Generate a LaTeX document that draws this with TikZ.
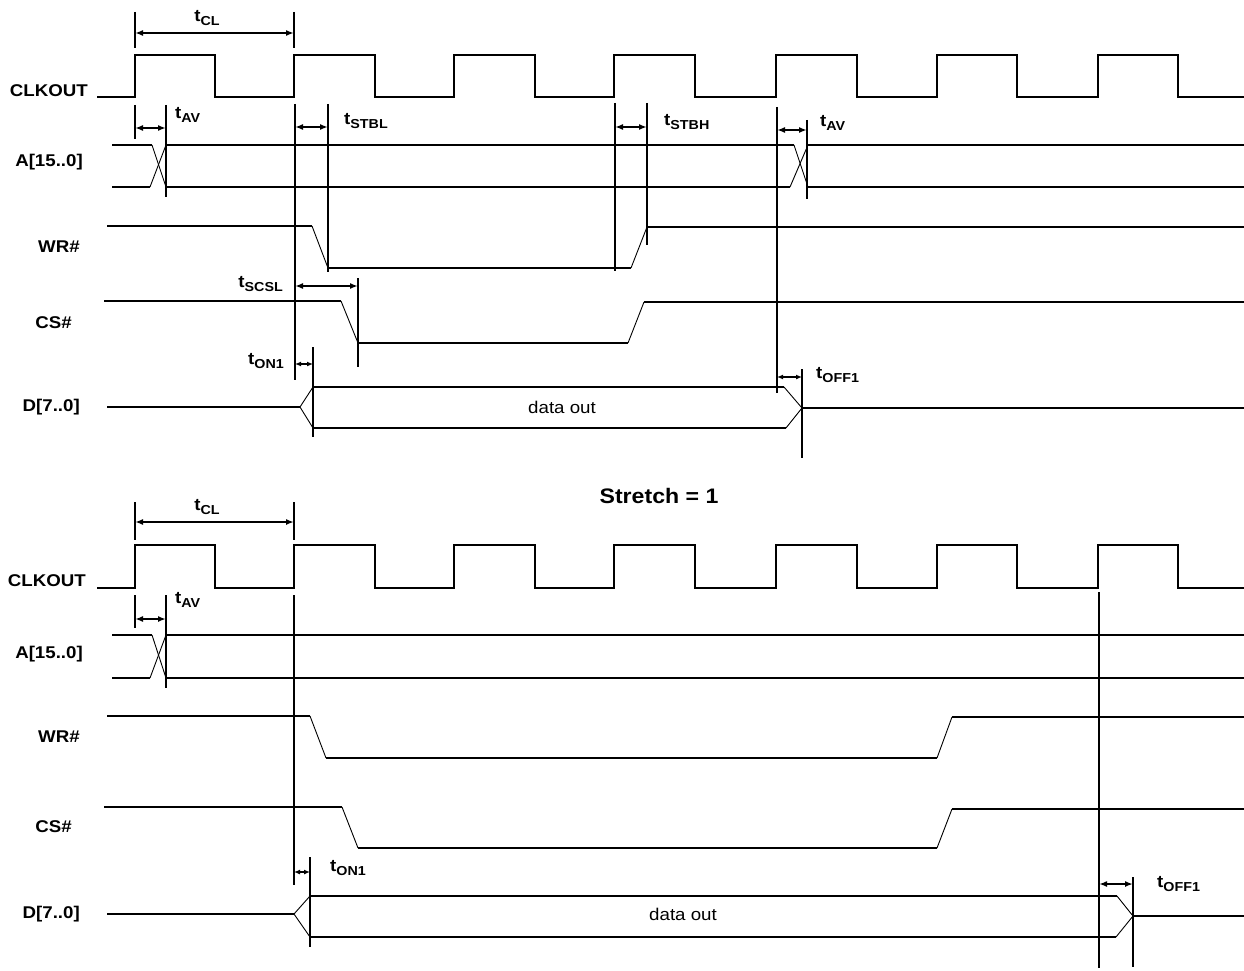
\documentclass[tikz,border=0pt]{standalone}
\usepackage{fontspec}
\setmainfont{Liberation Sans}[FakeStretch=1.1]
\usetikzlibrary{arrows.meta}
\newcommand{\tlab}[1]{t\raisebox{-3.5pt}{\fontsize{13}{13}\selectfont\bfseries #1}}
\begin{document}
\begin{tikzpicture}[x=1pt,y=-1pt,
  sig/.style={line width=2pt},
  thn/.style={line width=0.9pt},
  mk/.style={line width=2pt},
  dim/.style={line width=1.8pt,{Latex[length=8pt,width=6pt]}-{Latex[length=8pt,width=6pt]}},
  sdim/.style={line width=1.6pt,{Latex[length=6pt,width=5pt]}-{Latex[length=6pt,width=5pt]}},
  lbl/.style={font=\fontsize{17}{20}\selectfont\bfseries, inner sep=0pt},
  txt/.style={font=\fontsize{17}{20}\selectfont, inner sep=0pt}]
\useasboundingbox (0,0) rectangle (1244,971);
\fill[white] (0,0) rectangle (1244,971);

% ================= TOP DIAGRAM =================
\node[lbl,anchor=east] (clkA) at (88,91) {CLKOUT};
\node[lbl,anchor=east] (adrA) at (83,162) {A[15..0]};
\node[lbl,anchor=east] (wrA) at (80,247) {WR\#};
\node[lbl,anchor=east] (csA) at (72,323) {CS\#};
\node[lbl,anchor=east] (dA) at (80,407) {D[7..0]};

% clock
\draw[sig] (97,97) -- (135,97) -- (135,55) -- (215,55) -- (215,97) -- (294,97) -- (294,55) -- (375,55) -- (375,97)
  -- (454,97) -- (454,55) -- (535,55) -- (535,97) -- (614,97) -- (614,55) -- (695,55) -- (695,97)
  -- (776,97) -- (776,55) -- (857,55) -- (857,97) -- (937,97) -- (937,55) -- (1017,55) -- (1017,97)
  -- (1098,97) -- (1098,55) -- (1178,55) -- (1178,97) -- (1244,97);

% tCL
\draw[mk] (135,12) -- (135,48);
\draw[mk] (294,12) -- (294,48);
\draw[dim] (135,33) -- (294,33);
\node[lbl] (tclA) at (207,18) {\tlab{CL}};

% address bus
\draw[sig] (112,145) -- (152,145);
\draw[sig] (112,187) -- (150,187);
\draw[thn] (152,145) -- (166,187);
\draw[thn] (150,187) -- (166,145);
\draw[sig] (166,145) -- (794,145);
\draw[sig] (166,187) -- (790,187);
\draw[thn] (794,145) -- (808,187);
\draw[thn] (790,187) -- (808,145);
\draw[sig] (808,145) -- (1244,145);
\draw[sig] (808,187) -- (1244,187);

% tAV first
\draw[mk] (135,105) -- (135,139);
\draw[mk] (166,105) -- (166,197);
\draw[dim] (135,128) -- (166,128);
\node[lbl,anchor=west] (tavA) at (175,115) {\tlab{AV}};

% tSTBL
\draw[mk] (295,104) -- (295,380);
\draw[mk] (328,104) -- (328,272);
\draw[dim] (295,127) -- (328,127);
\node[lbl,anchor=west] (tstblA) at (344,121) {\tlab{STBL}};

% WR#
\draw[sig] (107,226) -- (312,226);
\draw[thn] (312,226) -- (328,268);
\draw[sig] (328,268) -- (631,268);
\draw[thn] (631,268) -- (647,227);
\draw[sig] (647,227) -- (1244,227);

% tSTBH
\draw[mk] (615,103) -- (615,271);
\draw[mk] (647,103) -- (647,245);
\draw[dim] (615,127) -- (647,127);
\node[lbl,anchor=west] (tstbhA) at (664,122) {\tlab{STBH}};

% CS#
\draw[sig] (104,301) -- (341,301);
\draw[thn] (341,301) -- (358,343);
\draw[sig] (358,343) -- (628,343);
\draw[thn] (628,343) -- (644,302);
\draw[sig] (644,302) -- (1244,302);

% tSCSL
\draw[mk] (358,278) -- (358,367);
\draw[dim] (295,286) -- (358,286);
\node[lbl,anchor=east] (tscslA) at (283,284) {\tlab{SCSL}};

% tON1
\draw[mk] (313,347) -- (313,437);
\draw[sdim] (295,364) -- (313,364);
\node[lbl,anchor=east] (ton1A) at (284,361) {\tlab{ON1}};

% D bus
\draw[sig] (107,407) -- (300,407);
\draw[thn] (300,407) -- (313,387);
\draw[thn] (300,407) -- (313,428);
\draw[sig] (313,387) -- (784,387);
\draw[sig] (313,428) -- (786,428);
\draw[thn] (784,387) -- (802,408);
\draw[thn] (786,428) -- (802,408);
\draw[sig] (802,408) -- (1244,408);
\node[txt] (doA) at (562,407) {data out};

% tAV second, tOFF1
\draw[mk] (777,107) -- (777,393);
\draw[mk] (807,120) -- (807,199);
\draw[dim] (777,130) -- (807,130);
\node[lbl,anchor=west] (tavB) at (820,123) {\tlab{AV}};
\draw[mk] (802,369) -- (802,458);
\draw[sdim] (777,377) -- (802,377);
\node[lbl,anchor=west] (toff1A) at (816,375) {\tlab{OFF1}};

% ================= TITLE =================
\node[font=\fontsize{21}{24}\selectfont\bfseries, inner sep=0pt] (title) at (659,496) {Stretch = 1};

% ================= BOTTOM DIAGRAM =================
\node[lbl,anchor=east] (clkB) at (86,581) {CLKOUT};
\node[lbl,anchor=east] (adrB) at (83,654) {A[15..0]};
\node[lbl,anchor=east] (wrB) at (80,737) {WR\#};
\node[lbl,anchor=east] (csB) at (72,827) {CS\#};
\node[lbl,anchor=east] (dB) at (80,914) {D[7..0]};

\draw[sig] (97,588) -- (135,588) -- (135,545) -- (215,545) -- (215,588) -- (294,588) -- (294,545) -- (375,545) -- (375,588)
  -- (454,588) -- (454,545) -- (535,545) -- (535,588) -- (614,588) -- (614,545) -- (695,545) -- (695,588)
  -- (776,588) -- (776,545) -- (857,545) -- (857,588) -- (937,588) -- (937,545) -- (1017,545) -- (1017,588)
  -- (1098,588) -- (1098,545) -- (1178,545) -- (1178,588) -- (1244,588);

% tCL
\draw[mk] (135,502) -- (135,540);
\draw[mk] (294,502) -- (294,540);
\draw[dim] (135,522) -- (294,522);
\node[lbl] (tclB) at (207,507) {\tlab{CL}};

% tAV
\draw[mk] (135,595) -- (135,628);
\draw[mk] (166,595) -- (166,688);
\draw[dim] (135,619) -- (166,619);
\node[lbl,anchor=west] (tavC) at (175,600) {\tlab{AV}};

% address
\draw[sig] (112,635) -- (152,635);
\draw[sig] (112,678) -- (150,678);
\draw[thn] (152,635) -- (166,678);
\draw[thn] (150,678) -- (166,635);
\draw[sig] (166,635) -- (1244,635);
\draw[sig] (166,678) -- (1244,678);

% long reference lines
\draw[mk] (294,595) -- (294,885);
\draw[mk] (1099,592) -- (1099,968);

% WR#
\draw[sig] (107,716) -- (310,716);
\draw[thn] (310,716) -- (326,758);
\draw[sig] (326,758) -- (937,758);
\draw[thn] (937,758) -- (952,717);
\draw[sig] (952,717) -- (1244,717);

% CS#
\draw[sig] (104,807) -- (342,807);
\draw[thn] (342,807) -- (358,848);
\draw[sig] (358,848) -- (937,848);
\draw[thn] (937,848) -- (952,809);
\draw[sig] (952,809) -- (1244,809);

% tON1
\draw[mk] (310,857) -- (310,947);
\draw[sdim] (294,872) -- (310,872);
\node[lbl,anchor=west] (ton1B) at (330,868) {\tlab{ON1}};

% D bus
\draw[sig] (107,914) -- (294,914);
\draw[thn] (294,914) -- (310,896);
\draw[thn] (294,914) -- (310,937);
\draw[sig] (310,896) -- (1117,896);
\draw[sig] (310,937) -- (1116,937);
\draw[thn] (1117,896) -- (1133,916);
\draw[thn] (1116,937) -- (1133,916);
\draw[sig] (1133,916) -- (1244,916);
\node[txt] (doB) at (683,914) {data out};

% tOFF1
\draw[mk] (1133,877) -- (1133,967);
\draw[dim] (1099,884) -- (1133,884);
\node[lbl,anchor=west] (toff1B) at (1157,884) {\tlab{OFF1}};
\end{tikzpicture}
\end{document}
